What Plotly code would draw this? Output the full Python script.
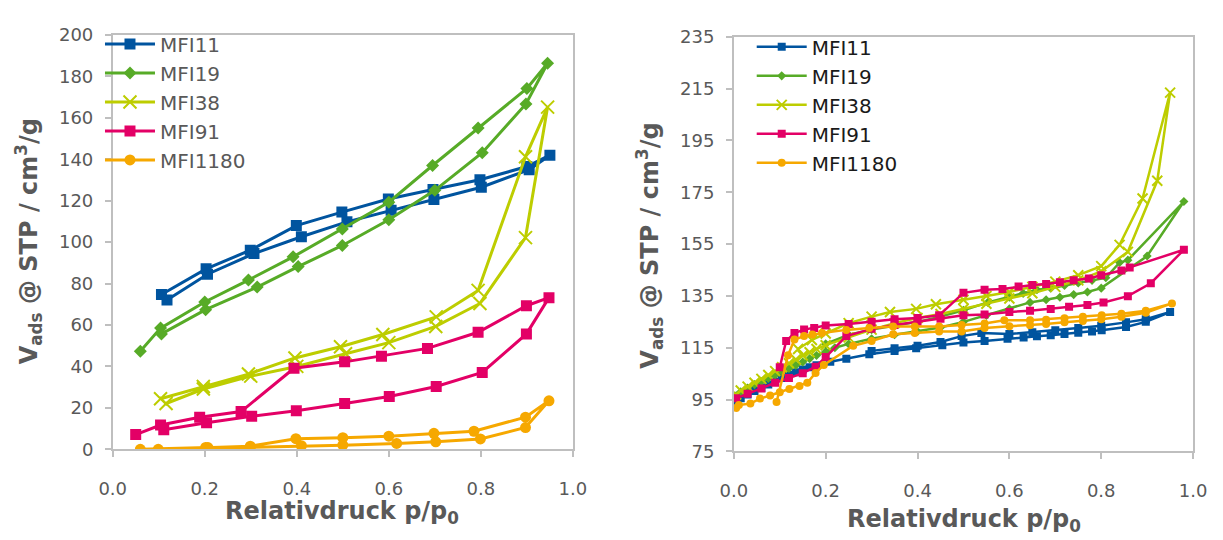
import plotly.graph_objects as go

# ---------------- Left panel: isotherms (adsorption branch, then desorption branch) ----------------
mfi11_l_ads_p = [0.118, 0.206, 0.307, 0.410, 0.509, 0.605, 0.698, 0.801, 0.905, 0.950]
mfi11_l_ads_v = [72.1, 84.5, 94.5, 102.6, 109.8, 115.4, 120.6, 126.5, 135.0, 142.0]
mfi11_l_des_p = [0.900, 0.798, 0.696, 0.599, 0.498, 0.399, 0.299, 0.203, 0.106]
mfi11_l_des_v = [136.5, 130.1, 125.4, 120.8, 114.5, 108.0, 96.1, 87.1, 74.7]

mfi19_l_ads_p = [0.106, 0.202, 0.314, 0.403, 0.499, 0.600, 0.700, 0.803, 0.898, 0.945]
mfi19_l_ads_v = [55.7, 67.4, 78.3, 88.2, 98.4, 110.8, 125.0, 143.2, 166.7, 186.4]
mfi19_l_des_p = [0.900, 0.794, 0.695, 0.600, 0.499, 0.392, 0.295, 0.200, 0.104, 0.060]
mfi19_l_des_v = [174.2, 155.1, 137.0, 119.3, 106.4, 92.9, 81.7, 71.1, 58.5, 47.3]

mfi38_l_ads_p = [0.116, 0.197, 0.300, 0.400, 0.506, 0.600, 0.702, 0.798, 0.897, 0.945]
mfi38_l_ads_v = [22.1, 29.1, 35.3, 40.0, 46.1, 51.5, 59.3, 70.4, 102.2, 165.2]
mfi38_l_des_p = [0.897, 0.794, 0.703, 0.587, 0.495, 0.396, 0.295, 0.197, 0.104]
mfi38_l_des_v = [141.2, 76.7, 63.9, 55.4, 49.5, 44.1, 36.3, 30.3, 24.4]

mfi91_l_ads_p = [0.111, 0.204, 0.302, 0.399, 0.504, 0.601, 0.703, 0.803, 0.899, 0.948]
mfi91_l_ads_v = [9.4, 12.8, 15.9, 18.6, 22.1, 25.5, 30.3, 37.1, 55.7, 73.2]
mfi91_l_des_p = [0.899, 0.794, 0.684, 0.584, 0.504, 0.394, 0.279, 0.189, 0.104, 0.050]
mfi91_l_des_v = [69.3, 56.5, 48.7, 44.9, 42.2, 39.1, 18.2, 15.5, 11.7, 7.1]

mfi1180_l_ads_p = [0.060, 0.207, 0.299, 0.410, 0.500, 0.617, 0.702, 0.799, 0.897, 0.948]
mfi1180_l_ads_v = [0.0, 0.8, 0.9, 1.7, 2.0, 2.8, 3.6, 5.0, 10.5, 23.4]
mfi1180_l_des_p = [0.897, 0.785, 0.698, 0.600, 0.500, 0.398, 0.299, 0.202, 0.099]
mfi1180_l_des_v = [15.5, 8.7, 7.7, 6.3, 5.6, 5.1, 1.5, 0.9, 0.0]

# ---------------- Right panel ----------------
mfi11_r_ads_p = [0.005, 0.015, 0.03, 0.045, 0.06, 0.075, 0.09, 0.105, 0.12, 0.135, 0.15, 0.165, 0.18,
                 0.21, 0.245, 0.295, 0.35, 0.397, 0.454, 0.50, 0.546, 0.596, 0.631, 0.66, 0.69, 0.72,
                 0.75, 0.78, 0.801, 0.854, 0.897, 0.95]
mfi11_r_ads_v = [94.5, 95.5, 97.0, 98.3, 99.5, 100.8, 102.0, 103.3, 104.5, 105.6, 106.6, 107.5, 108.3,
                 109.6, 110.8, 112.5, 113.8, 114.8, 116.0, 117.0, 117.6, 118.5, 119.0, 119.4, 119.8, 120.3,
                 120.8, 121.3, 121.8, 123.0, 125.0, 128.8]
mfi11_r_des_p = [0.897, 0.854, 0.80, 0.75, 0.70, 0.65, 0.60, 0.539, 0.496, 0.45, 0.40, 0.35, 0.30]
mfi11_r_des_v = [126.0, 124.8, 123.5, 122.6, 121.8, 121.0, 120.3, 120.7, 119.5, 117.2, 115.8, 114.8, 113.8]

mfi19_r_ads_p = [0.005, 0.015, 0.03, 0.045, 0.06, 0.075, 0.09, 0.105, 0.12, 0.135, 0.15, 0.165, 0.18,
                 0.20, 0.22, 0.25, 0.30, 0.35, 0.40, 0.45, 0.50, 0.55, 0.60, 0.645, 0.68, 0.71, 0.74,
                 0.77, 0.80, 0.90, 0.98]
mfi19_r_ads_v = [96.5, 98.0, 99.5, 100.8, 102.0, 103.2, 104.5, 105.8, 107.0, 108.3, 109.5, 110.8, 112.0,
                 113.5, 115.0, 116.5, 118.5, 120.0, 121.3, 122.8, 125.0, 127.5, 130.0, 132.5, 133.5, 134.5,
                 135.5, 136.5, 138.0, 150.4, 171.4]
mfi19_r_des_p = [0.858, 0.84, 0.81, 0.78, 0.75, 0.72, 0.69, 0.66, 0.63, 0.60, 0.553, 0.50, 0.45, 0.40,
                 0.35, 0.30, 0.25, 0.20]
mfi19_r_des_v = [148.8, 147.9, 142.0, 141.0, 140.0, 139.0, 138.0, 137.4, 136.0, 134.5, 132.5, 129.5,
                 127.0, 125.0, 123.5, 122.0, 120.0, 116.5]

mfi38_r_ads_p = [0.005, 0.015, 0.03, 0.045, 0.06, 0.075, 0.09, 0.105, 0.12, 0.135, 0.15, 0.165, 0.18,
                 0.20, 0.25, 0.30, 0.35, 0.40, 0.45, 0.50, 0.55, 0.60, 0.65, 0.70, 0.75, 0.80, 0.858,
                 0.922, 0.95]
mfi38_r_ads_v = [97.0, 98.5, 100.0, 101.5, 103.0, 104.5, 106.0, 107.5, 109.0, 110.5, 112.0, 113.3, 114.5,
                 116.0, 119.0, 122.0, 124.5, 126.5, 128.0, 130.0, 132.0, 134.0, 136.0, 138.5, 141.0, 144.5,
                 152.0, 179.4, 213.4]
mfi38_r_des_p = [0.89, 0.84, 0.80, 0.75, 0.70, 0.65, 0.60, 0.55, 0.50, 0.44, 0.397, 0.34, 0.30, 0.25,
                 0.20, 0.17, 0.14]
mfi38_r_des_v = [172.6, 154.7, 146.5, 143.0, 140.5, 138.5, 136.5, 135.0, 133.5, 131.8, 130.0, 128.8,
                 127.0, 124.5, 120.5, 118.0, 114.5]

mfi91_r_ads_p = [0.005, 0.03, 0.06, 0.09, 0.12, 0.15, 0.178, 0.20, 0.245, 0.30, 0.35, 0.40, 0.45, 0.50,
                 0.546, 0.60, 0.645, 0.69, 0.73, 0.77, 0.805, 0.858, 0.908, 0.98]
mfi91_r_ads_v = [95.5, 97.3, 99.3, 101.5, 103.3, 105.2, 107.7, 111.4, 119.5, 122.3, 123.8, 125.0, 126.2,
                 127.5, 127.8, 128.8, 129.3, 130.0, 130.8, 131.5, 132.5, 134.9, 139.9, 152.8]
mfi91_r_des_p = [0.862, 0.844, 0.80, 0.773, 0.74, 0.71, 0.68, 0.65, 0.62, 0.585, 0.546, 0.50, 0.447,
                 0.40, 0.35, 0.30, 0.25, 0.20, 0.175, 0.153, 0.132, 0.114, 0.10]
mfi91_r_des_v = [146.0, 144.8, 143.0, 141.7, 141.0, 140.3, 139.6, 139.2, 138.6, 137.7, 137.4, 136.2,
                 127.5, 126.5, 126.0, 125.0, 124.2, 123.6, 122.6, 122.0, 120.7, 117.6, 107.5]

mfi1180_r_ads_p = [0.005, 0.011, 0.036, 0.057, 0.079, 0.10, 0.121, 0.143, 0.16, 0.178, 0.196, 0.26,
                   0.30, 0.347, 0.394, 0.447, 0.496, 0.546, 0.60, 0.645, 0.68, 0.72, 0.76, 0.80, 0.844,
                   0.897, 0.954]
mfi1180_r_ads_v = [91.8, 92.9, 93.5, 95.4, 96.6, 97.8, 99.1, 100.3, 101.5, 105.3, 108.4, 115.8,
                   117.6, 120.2, 120.7, 121.3, 121.3, 122.6, 123.3, 123.7, 124.2, 124.8, 125.3, 126.0, 127.0,
                   128.5, 132.1]
mfi1180_r_des_p = [0.897, 0.844, 0.801, 0.76, 0.72, 0.68, 0.645, 0.589, 0.546, 0.496, 0.447, 0.394,
                   0.347, 0.295, 0.245, 0.192, 0.171, 0.153, 0.132, 0.118, 0.093]
mfi1180_r_des_v = [129.3, 128.1, 127.5, 127.0, 126.4, 125.8, 125.6, 125.6, 124.4, 123.8, 123.2, 123.2,
                   123.2, 122.6, 121.9, 120.7, 120.1, 119.5, 118.2, 112.1, 94.1]

series_names = ["MFI11", "MFI19", "MFI38", "MFI91", "MFI1180"]
colors = ["#00549F", "#57AB27", "#BDCD00", "#E30066", "#F6A800"]
symbols = ["square", "diamond", "x-thin", "square", "circle"]

x_ticks = [0.0, 0.2, 0.4, 0.6, 0.8, 1.0]
left_y_ticks = [0, 20, 40, 60, 80, 100, 120, 140, 160, 180, 200]
right_y_ticks = [75, 95, 115, 135, 155, 175, 195, 215, 235]

left_data = [
    (mfi11_l_ads_p, mfi11_l_ads_v, mfi11_l_des_p, mfi11_l_des_v),
    (mfi19_l_ads_p, mfi19_l_ads_v, mfi19_l_des_p, mfi19_l_des_v),
    (mfi38_l_ads_p, mfi38_l_ads_v, mfi38_l_des_p, mfi38_l_des_v),
    (mfi91_l_ads_p, mfi91_l_ads_v, mfi91_l_des_p, mfi91_l_des_v),
    (mfi1180_l_ads_p, mfi1180_l_ads_v, mfi1180_l_des_p, mfi1180_l_des_v),
]
right_data = [
    (mfi11_r_ads_p, mfi11_r_ads_v, mfi11_r_des_p, mfi11_r_des_v),
    (mfi19_r_ads_p, mfi19_r_ads_v, mfi19_r_des_p, mfi19_r_des_v),
    (mfi38_r_ads_p, mfi38_r_ads_v, mfi38_r_des_p, mfi38_r_des_v),
    (mfi91_r_ads_p, mfi91_r_ads_v, mfi91_r_des_p, mfi91_r_des_v),
    (mfi1180_r_ads_p, mfi1180_r_ads_v, mfi1180_r_des_p, mfi1180_r_des_v),
]

fig = go.Figure()


def marker_style(sym, col, size):
    m = dict(symbol=sym, color=col, size=size)
    if sym == "x-thin":
        m["line"] = dict(color=col, width=2)
        m["size"] = size + 2
    elif sym == "diamond":
        m["size"] = size - 1
    return m


for name, col, sym, (ap, av, dp, dv) in zip(series_names, colors, symbols, left_data):
    fig.add_trace(go.Scatter(
        x=ap + dp, y=av + dv, name=name, mode="lines+markers",
        line=dict(color=col, width=3), marker=marker_style(sym, col, 11),
        xaxis="x", yaxis="y", legend="legend",
    ))

for name, col, sym, (ap, av, dp, dv) in zip(series_names, colors, symbols, right_data):
    fig.add_trace(go.Scatter(
        x=ap + dp, y=av + dv, name=name, mode="lines+markers",
        line=dict(color=col, width=2.5), marker=marker_style(sym, col, 8),
        xaxis="x2", yaxis="y2", legend="legend2",
    ))

W, H = 1223, 540
axis_gray = "#BFBFBF"
tick_font = dict(family="DejaVu Sans", size=18, color="#595959")

common_x = dict(
    range=[0, 1], tickvals=x_ticks, tickformat=".1f", showgrid=False, zeroline=False,
    showline=True, linecolor=axis_gray, linewidth=1.5, mirror=True,
    ticks="outside", ticklen=6, tickcolor=axis_gray, tickwidth=1.5,
    tickfont=tick_font, ticklabelstandoff=16,
)
common_y = dict(
    showgrid=False, zeroline=False, showline=True, linecolor=axis_gray, linewidth=1.5,
    mirror=True, ticks="outside", ticklen=6, tickcolor=axis_gray, tickwidth=1.5,
    tickfont=tick_font, ticklabelstandoff=8,
)

fig.update_layout(
    width=W, height=H, margin=dict(l=0, r=0, t=0, b=0),
    paper_bgcolor="white", plot_bgcolor="white",
    xaxis=dict(domain=[101 / W, 572 / W], anchor="y", **common_x),
    yaxis=dict(domain=[1 - 456 / H, 1 - 25 / H], anchor="x", range=[0, 200],
               tickvals=left_y_ticks, **common_y),
    xaxis2=dict(domain=[736.7 / W, 1206.7 / W], anchor="y2", **common_x),
    yaxis2=dict(domain=[1 - 458.3 / H, 1 - 26.7 / H], anchor="x2", range=[75, 235],
                tickvals=right_y_ticks, **common_y),
    legend=dict(x=88 / W, y=1 - 14 / H, xanchor="left", yanchor="top",
                bgcolor="rgba(0,0,0,0)", borderwidth=0, tracegroupgap=0,
                font=dict(family="DejaVu Sans", size=20, color="#595959"), itemwidth=50),
    legend2=dict(x=755 / W, y=1 - 17 / H, xanchor="left", yanchor="top",
                 bgcolor="rgba(0,0,0,0)", borderwidth=0, tracegroupgap=0,
                 font=dict(family="DejaVu Sans", size=20, color="#1a1a1a"), itemwidth=50),
    showlegend=True,
)

title_font = dict(family="DejaVu Sans", size=24, color="#595959")
x_title = "<b>Relativdruck p/p<sub>0</sub></b>"
y_title = "<b>V<sub>ads</sub> @ STP / cm<sup>3</sup>/g</b>"

fig.add_annotation(text=x_title, x=336 / W, y=1 - 522 / H, xref="paper", yref="paper",
                   xanchor="center", yanchor="middle", showarrow=False, font=title_font)
fig.add_annotation(text=x_title, x=972 / W, y=1 - 530 / H, xref="paper", yref="paper",
                   xanchor="center", yanchor="middle", showarrow=False, font=title_font)
fig.add_annotation(text=y_title, x=15 / W, y=1 - 240 / H, xref="paper", yref="paper",
                   xanchor="center", yanchor="middle", textangle=-90, showarrow=False, font=title_font)
fig.add_annotation(text=y_title, x=650 / W, y=1 - 244 / H, xref="paper", yref="paper",
                   xanchor="center", yanchor="middle", textangle=-90, showarrow=False, font=title_font)

fig.write_html("out.html")
